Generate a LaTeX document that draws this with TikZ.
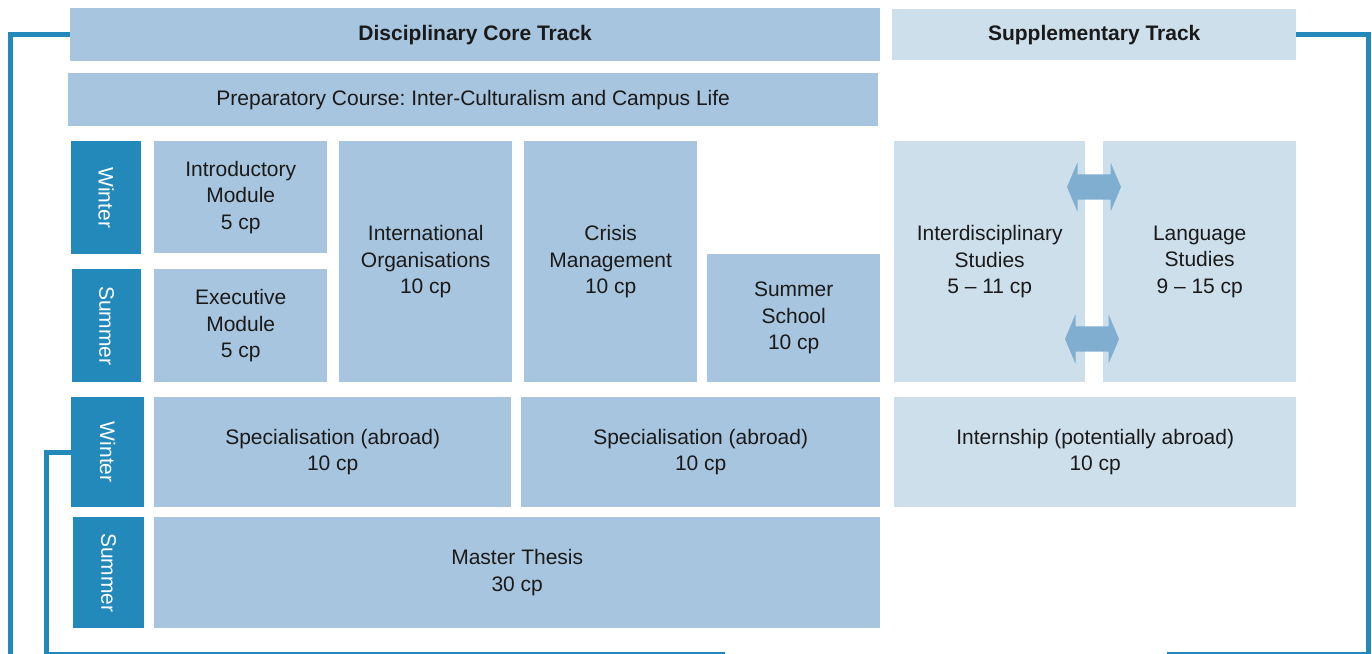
\documentclass[tikz,border=0pt]{standalone}
\usepackage{fontspec}
\setmainfont{Liberation Sans}
\usepackage{xcolor}
\usetikzlibrary{shapes.arrows}
\frenchspacing
\definecolor{coreblue}{HTML}{A7C5DE}
\definecolor{suppblue}{HTML}{CEDFEC}
\definecolor{termblue}{HTML}{2389BA}
\definecolor{arrowblue}{HTML}{7FAED1}
\definecolor{textgrey}{HTML}{1A1A1A}
\tikzstyle{core box}=[
        fill = coreblue,
        anchor = north west,
        inner sep = 0pt,
        align = center,
        text = textgrey,
        font = \fontsize{21}{26.5}\selectfont
    ]
\tikzstyle{supp box}=[
        core box,
        fill = suppblue
    ]
\tikzstyle{term box}=[
        fill = termblue,
        anchor = north west,
        inner sep = 0pt
    ]
\tikzstyle{term label}=[
        rotate = -90,
        text = white,
        font = \fontsize{21}{24}\selectfont
    ]
\tikzstyle{swap arrow}=[
        double arrow,
        fill = arrowblue,
        inner xsep = 0pt,
        inner ysep = 12.5pt,
        minimum height = 54pt,
        double arrow head extend = 12pt,
        double arrow tip angle = 134
    ]
\tikzstyle{frame line}=[
        draw = termblue,
        line width = 5pt
    ]

\begin{document}
\begin{tikzpicture}[x=1pt, y=-1pt]
        \useasboundingbox (0,0) rectangle (1372,653);

        % track headers
        \node[core box, minimum width=810pt, minimum height=53pt] (core) at (70,8) {\bfseries Disciplinary Core Track};
        \node[supp box, minimum width=404pt, minimum height=51pt] (supp) at (892,9) {\bfseries Supplementary Track};
        \node[core box, minimum width=810pt, minimum height=53pt] (prep) at (68,73) {Preparatory Course: Inter-Culturalism and Campus Life};

        % terms
        \node[term box, minimum width=70pt, minimum height=113pt] (w1) at (71,141) {};
        \node[term label] (w1t) at (w1.center) {Winter};
        \node[term box, minimum width=69pt, minimum height=113pt] (s1) at (72,269) {};
        \node[term label] (s1t) at (s1.center) {Summer};
        \node[term box, minimum width=73pt, minimum height=110pt] (w2) at (71,397) {};
        \node[term label] (w2t) at (w2.center) {Winter};
        \node[term box, minimum width=71pt, minimum height=111pt] (s2) at (73,517) {};
        \node[term label] (s2t) at (s2.center) {Summer};

        % first year
        \node[core box, minimum width=173pt, minimum height=112pt] (intro) at (154,141) {Introductory\\Module\\5 cp};
        \node[core box, minimum width=173pt, minimum height=113pt] (exec) at (154,269) {Executive\\Module\\5 cp};
        \node[core box, minimum width=173pt, minimum height=241pt] (intl) at (339,141) {International\\Organisations\\10 cp};
        \node[core box, minimum width=173pt, minimum height=241pt] (crisis) at (524,141) {Crisis\\Management\\10 cp};
        \node[core box, minimum width=173pt, minimum height=128pt] (school) at (707,254) {Summer\\School\\10 cp};
        \node[supp box, minimum width=191pt, minimum height=241pt] (inter) at (894,141) {Interdisciplinary\\Studies\\5 -- 11 cp};
        \node[supp box, minimum width=193pt, minimum height=241pt] (lang) at (1103,141) {Language\\Studies\\9 -- 15 cp};

        % second year
        \node[core box, minimum width=357pt, minimum height=110pt] (spec1) at (154,397) {Specialisation (abroad)\\10 cp};
        \node[core box, minimum width=359pt, minimum height=110pt] (spec2) at (521,397) {Specialisation (abroad)\\10 cp};
        \node[supp box, minimum width=402pt, minimum height=110pt] (intern) at (894,397) {Internship (potentially abroad)\\10 cp};
        \node[core box, minimum width=726pt, minimum height=111pt] (thesis) at (154,517) {Master Thesis\\30 cp};

        % exchange arrows
        \node[swap arrow] (a1) at (1094,187) {};
        \node[swap arrow] (a2) at (1092,339) {};

        % frame
        \coordinate (c1) at (10.5,660);
        \coordinate (c2) at (1368.5,654);
        \coordinate (c3) at (1167,654);
        \coordinate (c4) at (46,654);
        \coordinate (c5) at (725,654);
        \draw[frame line] (core.west) -| (c1);
        \draw[frame line] (supp.east) -| (c2) -- (c3);
        \draw[frame line] (w2.west) -| (c4) -- (c5);

    \end{tikzpicture}
\end{document}
